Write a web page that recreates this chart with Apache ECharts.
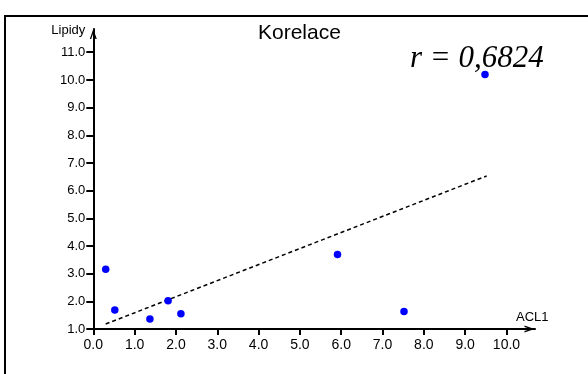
<!DOCTYPE html>
<html>
<head>
<meta charset="utf-8">
<script src="https://cdn.jsdelivr.net/npm/echarts@6/dist/echarts.min.js"></script>
<style>html,body{margin:0;padding:0;background:#fff;}#c{width:588px;height:374px;}</style>
</head>
<body>
<div id="c"></div>
<script>
// Data
const acl1 = [0.30, 0.52, 1.37, 1.81, 2.12, 5.91, 7.52, 9.48];
const lipidy = [3.16, 1.69, 1.36, 2.02, 1.55, 3.69, 1.63, 10.20];
const trendX = [0.30, 9.52];
const trendY = [1.18, 6.53];
const xTicks = [0, 1, 2, 3, 4, 5, 6, 7, 8, 9, 10];
const yTicks = [1, 2, 3, 4, 5, 6, 7, 8, 9, 10, 11];
const titleText = 'Korelace';
const rText = 'r = 0,6824';

const chart = echarts.init(document.getElementById('c'), null, {renderer: 'canvas'});
const arrow = 'path://M3.5,0 L7,10 L5.6,10 L3.5,4 L1.4,10 L0,10 Z';
const font = 'Arial, "Liberation Sans", sans-serif';
chart.setOption({
  animation: false,
  backgroundColor: '#fff',
  title: [
    {text: titleText, left: 253, top: 18, textStyle: {fontFamily: font, fontSize: 21, fontWeight: 'normal', color: '#000'}},
    {text: rText, left: 405, top: 38, textStyle: {fontFamily: '"Liberation Serif", "Times New Roman", serif', fontStyle: 'italic', fontSize: 31, fontWeight: 'normal', color: '#000'}}
  ],
  graphic: [
    {type: 'rect', shape: {x: 5, y: 16, width: 620, height: 420}, style: {fill: null, stroke: '#000', lineWidth: 2}, silent: true, z: -1}
  ],
  grid: {left: 93.3, right: 53, top: 29, bottom: 45, containLabel: false},
  xAxis: {
    type: 'value', min: 0, max: 10.69,
    name: 'ACL1', nameLocation: 'end', nameGap: -19,
    nameTextStyle: {fontFamily: font, fontSize: 13, color: '#000', align: 'left', verticalAlign: 'bottom', padding: [0, 0, 5, 0]},
    splitLine: {show: false},
    axisLine: {show: true, onZero: false, lineStyle: {color: '#000', width: 2}, symbol: ['none', arrow], symbolSize: [7, 11], symbolOffset: [0, -5.5]},
    axisTick: {show: true, length: 6, lineStyle: {color: '#000', width: 2}, customValues: xTicks},
    axisLabel: {fontFamily: font, fontSize: 14, color: '#000', margin: 9, customValues: xTicks, formatter: v => v.toFixed(1)}
  },
  yAxis: {
    type: 'value', min: 1, max: 11.84,
    name: 'Lipidy', nameLocation: 'end', nameGap: -1,
    nameTextStyle: {fontFamily: font, fontSize: 13, color: '#000', align: 'right', verticalAlign: 'middle', padding: [0, 8, 0, 0]},
    splitLine: {show: false},
    axisLine: {show: true, onZero: false, lineStyle: {color: '#000', width: 2}, symbol: ['none', arrow], symbolSize: [7, 10], symbolOffset: [0, -5]},
    axisTick: {show: true, length: 7, lineStyle: {color: '#000', width: 2}, customValues: yTicks},
    axisLabel: {fontFamily: font, fontSize: 13, color: '#000', margin: 8, customValues: yTicks, formatter: v => v.toFixed(1)}
  },
  series: [
    {
      type: 'line', data: trendX.map((x, i) => [x, trendY[i]]),
      symbol: 'none', lineStyle: {color: '#000', width: 1.5, type: [4, 3]}, z: 2
    },
    {
      type: 'scatter', data: acl1.map((x, i) => [x, lipidy[i]]),
      symbol: 'circle', symbolSize: 7.5, itemStyle: {color: '#0000ff', opacity: 1}, z: 3
    }
  ]
});
</script>
</body>
</html>
